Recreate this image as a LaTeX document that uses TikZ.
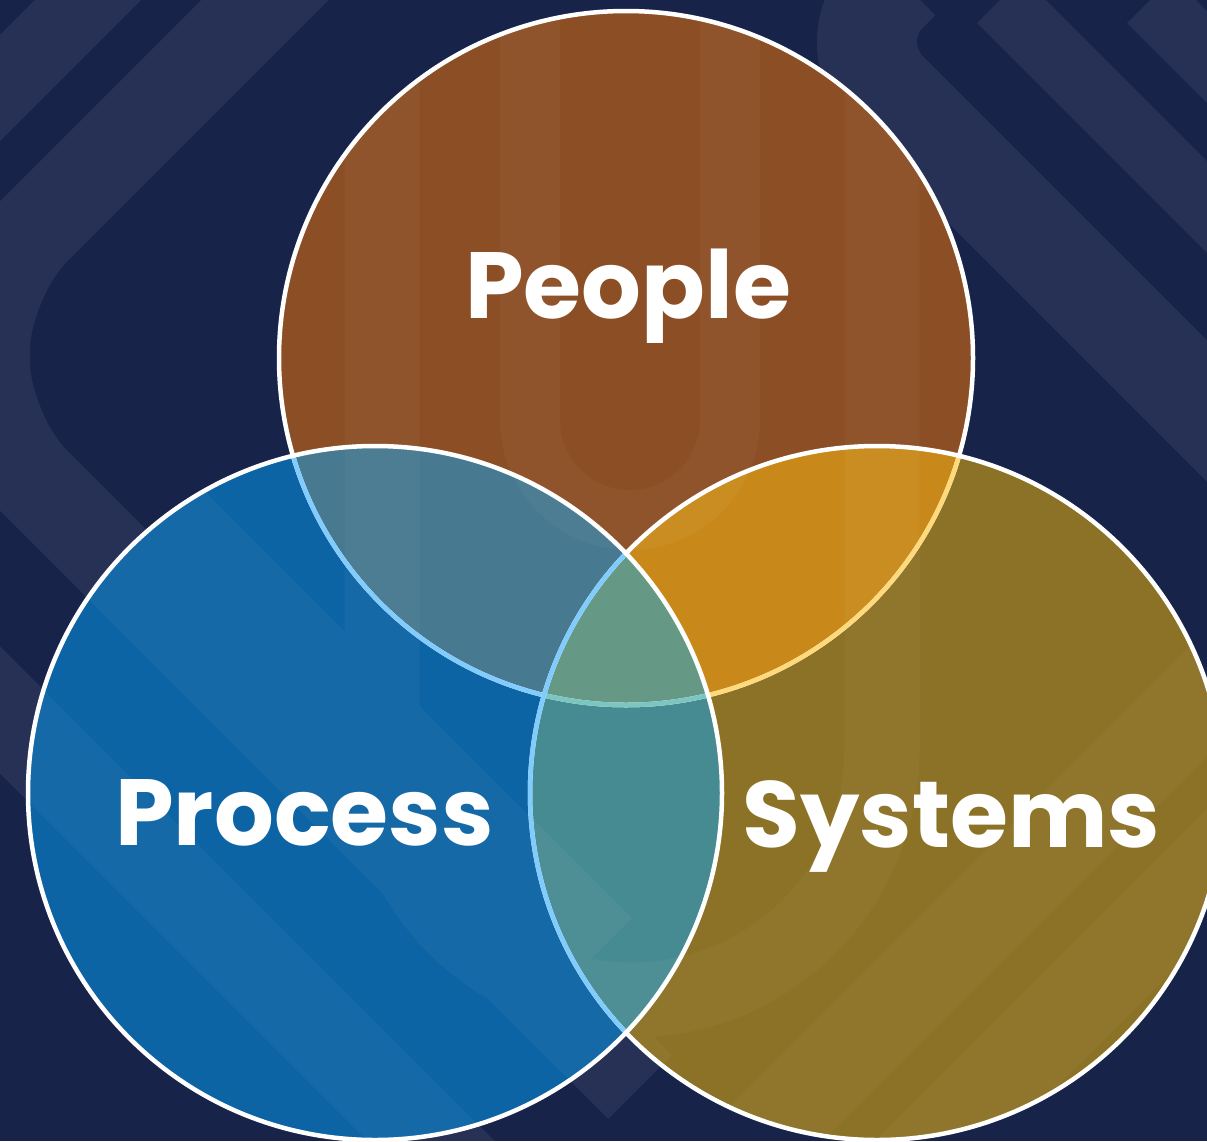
\documentclass[tikz,border=0pt]{standalone}
\usepackage{fontspec}
\newfontfamily\lblfont{Poppins}
\definecolor{bgnavy}{HTML}{18234A}
\definecolor{peoplec}{HTML}{8B4E25}
\definecolor{processc}{HTML}{0D64A4}
\definecolor{systemsc}{HTML}{8C7226}
\definecolor{ppc}{HTML}{477990}
\definecolor{psc}{HTML}{C8891A}
\definecolor{prsc}{HTML}{478B92}
\definecolor{centerc}{HTML}{659985}
\definecolor{lblue}{HTML}{80CCFF}
\definecolor{lyellow}{HTML}{FFD97A}
\definecolor{lteal}{HTML}{7CC6C2}
\tikzset{
  band/.style={draw=white, line width=#1, rounded corners=70pt, line cap=butt},
  ring/.style={line width=4.5pt},
  lbl/.style={text=white, font=\lblfont\bfseries\fontsize{94}{94}\selectfont, inner sep=0pt},
}
\begin{document}
\begin{tikzpicture}[x=1pt,y=-1pt]
\useasboundingbox (0,0) rectangle (1207,1141);
\fill[bgnavy] (0,0) rectangle (1207,1141);
\coordinate (pe) at (626,358);
\coordinate (pr) at (375,793);
\coordinate (sy) at (877,793);
\def\R{347pt}
% background watermark
\begin{scope}
\clip (0,0) rectangle (1207,1141);
\begin{scope}[transparency group, opacity=0.065]
\draw[band=75pt] (-60,148) -- (148,-60);
\draw[band=90pt] (305,-40) -- (-15,280) -- (-15,432) -- (640,1087);
\draw[band=90pt] (-60,650) -- (480,1190);
\draw[band=100pt] (900,-20) -- (838,42) -- (1320,524);
\draw[band=65pt] (1000,0) -- (1320,320);
\draw[band=65pt] (1150,0) -- (1320,170);
\draw[band=75pt, rounded corners=0pt] (382,750) arc[start angle=180, end angle=360, radius=250pt];
\end{scope}
\end{scope}
% circle fills
\fill[peoplec] (pe) circle[radius=\R];
\fill[systemsc] (sy) circle[radius=\R];
\fill[processc] (pr) circle[radius=\R];
\begin{scope}
\clip (pe) circle[radius=\R];
\fill[ppc] (pr) circle[radius=\R];
\fill[psc] (sy) circle[radius=\R];
\end{scope}
\begin{scope}
\clip (pr) circle[radius=\R];
\fill[prsc] (sy) circle[radius=\R];
\clip (sy) circle[radius=\R];
\fill[centerc] (pe) circle[radius=\R];
\end{scope}
% watermark inside circles
\begin{scope}
\clip (pe) circle[radius=\R] (pr) circle[radius=\R] (sy) circle[radius=\R];
\begin{scope}[transparency group, opacity=0.035]
\draw[band=90pt] (305,-40) -- (-15,280) -- (-15,432) -- (640,1087);
\draw[band=90pt] (-60,650) -- (480,1190);
\draw[band=90pt] (150,500) -- (600,950);
\draw[band=90pt] (700,1200) -- (1250,650);
\draw[band=90pt] (880,1200) -- (1300,780);
\draw[band=75pt, rounded corners=0pt] (382,-20) -- (382,750) arc[start angle=180, end angle=360, radius=250pt] -- (882,-20);
\draw[band=60pt, rounded corners=0pt] (530,-20) -- (530,420) arc[start angle=180, end angle=360, radius=100pt] -- (730,-20);
\end{scope}
\end{scope}
% outlines
\draw[ring, white] (pe) circle[radius=\R];
\begin{scope}
\clip (sy) circle[radius=\R];
\draw[ring, lyellow] (pe) circle[radius=\R];
\end{scope}
\begin{scope}
\clip (pr) circle[radius=\R];
\draw[ring, lblue] (pe) circle[radius=\R];
\clip (sy) circle[radius=\R];
\draw[ring, lteal] (pe) circle[radius=\R];
\end{scope}
\draw[ring, white] (sy) circle[radius=\R];
\begin{scope}
\clip (pr) circle[radius=\R];
\draw[ring, lblue] (sy) circle[radius=\R];
\end{scope}
\draw[ring, white] (pr) circle[radius=\R];
% labels
\node[lbl, anchor=base] (lpeople) at (628,318) {People};
\node[lbl, anchor=base] (lprocess) at (304.5,845) {Process};
\node[lbl, anchor=base] (lsystems) at (951.5,847) {Systems};
\end{tikzpicture}
\end{document}
